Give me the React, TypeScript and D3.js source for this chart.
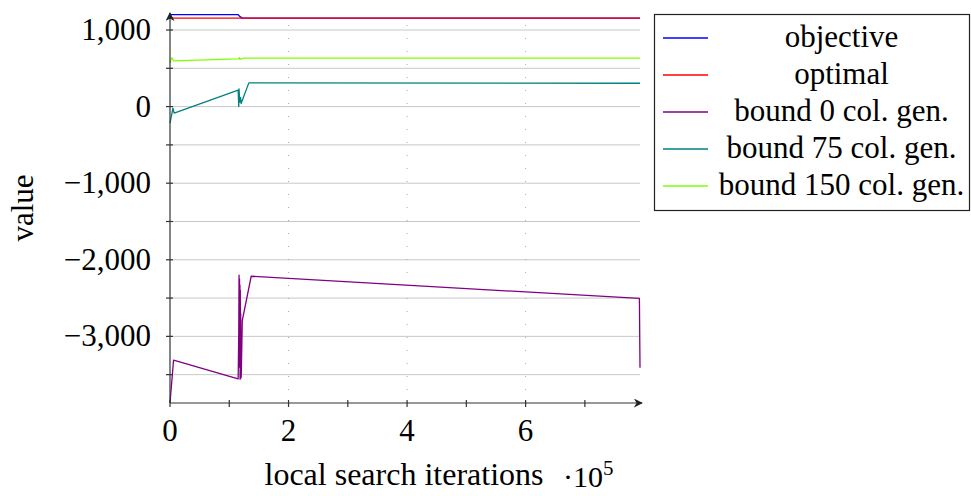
import React, { useRef, useEffect } from 'react'
import * as d3 from 'd3'

const W = 971
const H = 496

const seriesNames = ['objective', 'optimal', 'bound 0 col. gen.', 'bound 75 col. gen.', 'bound 150 col. gen.']
const seriesColors = ['#0000ff', '#ff0000', '#800080', '#008080', '#80ff00']

// x in local search iterations
const objectiveIter = [0, 2000, 115000, 118000, 122000, 793000]
const objectiveVal = [1195, 1200, 1200, 1175, 1155, 1155]

const optimalIter = [0, 793000]
const optimalVal = [1155, 1155]

const bound0Iter = [0, 6000, 115000, 116000, 116500, 117000, 117300, 117600, 118000, 118300, 118600, 119000, 119300, 119600, 120000, 120300, 122000, 137000, 792000, 793000]
const bound0Val = [-3870, -3310, -3555, -2950, -2200, -3400, -2250, -3350, -2330, -3560, -2400, -3450, -2700, -3300, -3540, -3480, -2790, -2215, -2505, -3410]

const bound75Iter = [0, 5000, 7000, 115000, 116000, 116500, 117500, 119000, 120000, 133000, 793000]
const bound75Val = [-215, -20, -85, 215, 0, 230, 60, 120, 40, 310, 305]

const bound150Iter = [0, 3000, 6000, 115000, 117000, 118000, 125000, 793000]
const bound150Val = [570, 640, 598, 622, 640, 618, 632, 632]

const xTicks = [0, 200000, 400000, 600000]
const xMinorTicks = [100000, 300000, 500000, 700000]
const yTicks = [-3000, -2000, -1000, 0, 1000]
const yMinorTicks = [-3500, -2500, -1500, -500, 500]

const FONT = "'Liberation Serif', 'Times New Roman', Times, 'DejaVu Serif', serif"

export default function App() {
  const ref = useRef<SVGSVGElement>(null)

  useEffect(() => {
    const svg = d3.select(ref.current)
    svg.selectAll('*').remove()

    const x = d3.scaleLinear().domain([0, 793000]).range([170, 640])
    const y = d3.scaleLinear().domain([-3870, 1200]).range([403, 14.7])

    const defs = svg.append('defs')
    defs.append('marker')
      .attr('id', 'arrow')
      .attr('viewBox', '0 0 10 10')
      .attr('refX', 9).attr('refY', 5)
      .attr('markerWidth', 9).attr('markerHeight', 9)
      .attr('markerUnits', 'userSpaceOnUse')
      .attr('orient', 'auto')
      .append('path')
      .attr('d', 'M0,0 L10,5 L0,10 L3,5 Z')
      .attr('fill', '#222')

    // grid
    const grid = svg.append('g')
    grid.selectAll('line.h').data([...yTicks, ...yMinorTicks]).join('line')
      .attr('x1', x(0)).attr('x2', x(793000))
      .attr('y1', d => y(d)).attr('y2', d => y(d))
      .attr('stroke', '#c8c8c8').attr('stroke-width', 1)
    grid.selectAll('line.v').data(xTicks.slice(1)).join('line')
      .attr('x1', d => x(d)).attr('x2', d => x(d))
      .attr('y1', y(-3870)).attr('y2', y(1200))
      .attr('stroke', '#aaa').attr('stroke-width', 1)
      .attr('stroke-dasharray', '1,12')

    // series
    const series = [
      [objectiveIter, objectiveVal],
      [optimalIter, optimalVal],
      [bound0Iter, bound0Val],
      [bound75Iter, bound75Val],
      [bound150Iter, bound150Val],
    ]
    series.forEach(([it, val], i) => {
      const pts: [number, number][] = it.map((v, j) => [x(v), y(val[j])])
      svg.append('path')
        .attr('d', d3.line()(pts))
        .attr('fill', 'none')
        .attr('stroke', seriesColors[i])
        .attr('stroke-width', 1.3)
        .attr('stroke-linejoin', 'round')
    })

    // axes
    const axes = svg.append('g').attr('stroke', '#333').attr('stroke-width', 1.2)
    axes.append('line')
      .attr('x1', x(0)).attr('x2', x(0))
      .attr('y1', y(-3870)).attr('y2', 13)
      .attr('marker-end', 'url(#arrow)')
    axes.append('line')
      .attr('x1', x(0)).attr('x2', 642)
      .attr('y1', y(-3870)).attr('y2', y(-3870))
      .attr('marker-end', 'url(#arrow)')
    axes.selectAll('line.yt').data([...yTicks, ...yMinorTicks]).join('line')
      .attr('x1', x(0) - 4).attr('x2', x(0) + 3)
      .attr('y1', d => y(d)).attr('y2', d => y(d))
    axes.selectAll('line.xt').data([...xTicks, ...xMinorTicks]).join('line')
      .attr('x1', d => x(d)).attr('x2', d => x(d))
      .attr('y1', y(-3870) - 3).attr('y2', y(-3870) + 4)

    const fmt = d3.format(',')
    svg.append('g').selectAll('text').data(yTicks).join('text')
      .attr('x', 151).attr('y', d => y(d) + 10)
      .attr('text-anchor', 'end')
      .style('font-family', FONT).style('font-size', '31px')
      .text(d => fmt(d))
    svg.append('g').selectAll('text').data(xTicks).join('text')
      .attr('x', d => x(d)).attr('y', 441)
      .attr('text-anchor', 'middle')
      .style('font-family', FONT).style('font-size', '31px')
      .text(d => String(d / 100000))

    svg.append('text')
      .attr('x', 404).attr('y', 485)
      .attr('text-anchor', 'middle')
      .style('font-family', FONT).style('font-size', '32px')
      .text('local search iterations')
    const mult = svg.append('text')
      .attr('x', 563).attr('y', 487)
      .style('font-family', FONT).style('font-size', '30px')
    mult.append('tspan').text('·10')
    mult.append('tspan').attr('dy', -12).style('font-size', '21px').text('5')

    svg.append('text')
      .attr('transform', 'translate(33,208) rotate(-90)')
      .attr('text-anchor', 'middle')
      .style('font-family', FONT).style('font-size', '31px')
      .text('value')

    // legend
    const lg = svg.append('g')
    lg.append('rect')
      .attr('x', 654.5).attr('y', 14.5).attr('width', 315).attr('height', 196)
      .attr('fill', 'white').attr('stroke', '#222').attr('stroke-width', 1.2)
    seriesNames.forEach((name, i) => {
      const ry = 38 + i * 37
      lg.append('line')
        .attr('x1', 663).attr('x2', 708).attr('y1', ry).attr('y2', ry)
        .attr('stroke', seriesColors[i]).attr('stroke-width', 1.3)
      lg.append('text')
        .attr('x', 841.5).attr('y', ry + 9)
        .attr('text-anchor', 'middle')
        .style('font-family', FONT).style('font-size', '31px')
        .text(name)
    })
  })

  return (
    <div style={{ position: 'absolute', left: 0, top: 0 }}>
      <svg ref={ref} width={W} height={H} />
    </div>
  )
}
